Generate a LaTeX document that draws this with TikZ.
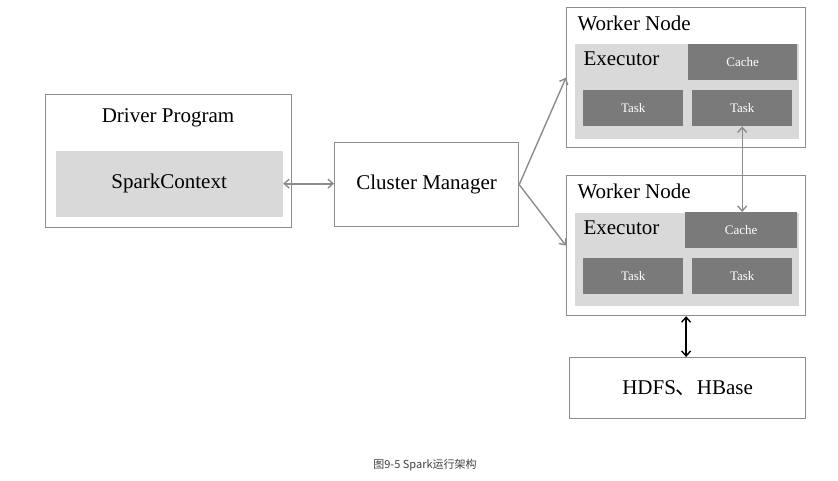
\documentclass[tikz,border=0pt]{standalone}
\usepackage{fontspec}
\setmainfont{Liberation Serif}
\newfontfamily\cjk{Noto Sans CJK SC}
\usetikzlibrary{arrows.meta}
\definecolor{boxline}{HTML}{8C8C8C}
\definecolor{execfill}{HTML}{D9D9D9}
\definecolor{taskfill}{HTML}{7A7A7A}
\begin{document}
\begin{tikzpicture}[x=1pt,y=-1pt,
		box/.style={draw=boxline,line width=1.2pt,fill=white,anchor=north west,inner sep=0pt},
		big/.style={font=\fontsize{21}{24}\selectfont},
		dark/.style={fill=taskfill,text=white,anchor=north west,inner sep=0pt,font=\fontsize{13}{15}\selectfont},
		link/.style={boxline,line width=1.4pt,>={Straight Barb[length=5pt,width=9pt,line width=1.4pt]}}]
			\useasboundingbox (0,0) rectangle (838,481);
			\node[box,minimum width=246,minimum height=133] (driver) at (45,94) {};
			\node[big] (drivertitle) at (168,118) {Driver Program};
			\node[box,draw=none,fill=execfill,minimum width=227,minimum height=66,big] (sc) at (55,150) {SparkContext};
			\node[box,minimum width=184,minimum height=84,big] (cm) at (334,142) {Cluster Manager};
				\node[box,minimum width=239,minimum height=140] (worker1) at (566,7) {};
				\node[big,anchor=west] at (574,23) {Worker Node};
				\node[box,draw=none,fill=execfill,minimum width=224,minimum height=95] (exec1) at (574,43) {};
				\node[big,anchor=west] at (580,59) {Executor};
				\node[dark,minimum width=109,minimum height=36] (cache1) at (688,44) {Cache};
				\node[dark,minimum width=100,minimum height=36] (task1a) at (583,90) {Task};
				\node[dark,minimum width=100,minimum height=36] (task1b) at (692,90) {Task};
				\node[box,minimum width=239,minimum height=140] (worker2) at (566,175) {};
				\node[big,anchor=west] at (574,191) {Worker Node};
				\node[box,draw=none,fill=execfill,minimum width=224,minimum height=93] (exec2) at (574,212) {};
				\node[big,anchor=west] at (580,228) {Executor};
				\node[dark,minimum width=112,minimum height=36] (cache2) at (685,212) {Cache};
				\node[dark,minimum width=100,minimum height=36] (task2a) at (583,258) {Task};
				\node[dark,minimum width=100,minimum height=36] (task2b) at (692,258) {Task};
			\node[box,minimum width=236,minimum height=61,big] (hdfs) at (569,357) {HDFS{\cjk 、}HBase};
			\node[font=\cjk\fontsize{11}{13}\selectfont,text=black!75] (caption) at (425,465) {图9-5 Spark运行架构};
			\draw[link,<->,line width=2pt] (sc.east) -- (sc.east -| cm.west);
			\draw[link,->] (cm.east) -- (worker1.west);
			\draw[link,->] (cm.east) -- (worker2.west);
			\draw[link,<->] (task1b.south) -- (task1b.south |- cache2.north);
			\draw[link,<->,black] (worker2.south) -- (worker2.south |- hdfs.north);
\end{tikzpicture}
\end{document}
